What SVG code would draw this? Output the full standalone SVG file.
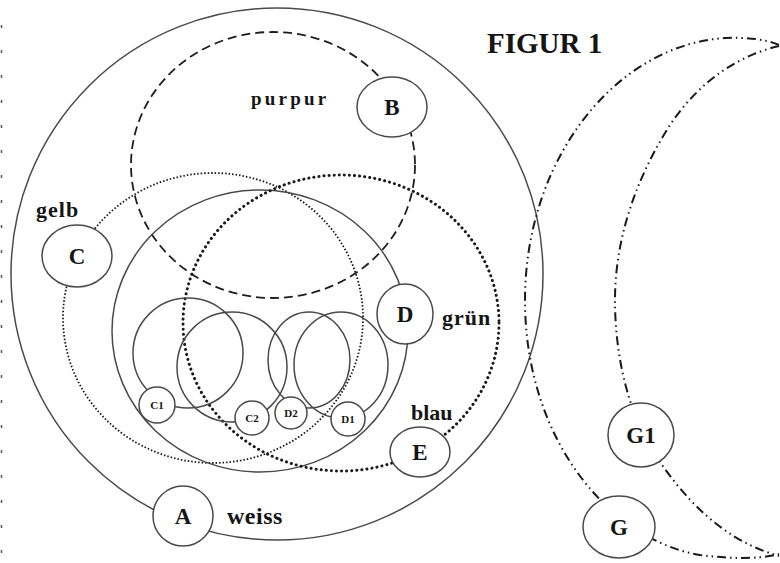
<svg xmlns="http://www.w3.org/2000/svg" width="780" height="563" viewBox="0 0 780 563">
<style>
  .ring{fill:none;stroke:#4a4a4a;stroke-width:1.5}
  .purpur{fill:none;stroke:#1e1e1e;stroke-width:1.8;stroke-dasharray:9 5}
  .gelb{fill:none;stroke:#151515;stroke-width:1.8;stroke-dasharray:1.5 2}
  .blau{fill:none;stroke:#1a1a1a;stroke-width:3;stroke-linecap:round;stroke-dasharray:0.1 5}
  .ddot{fill:none;stroke:#1a1a1a;stroke-width:2;stroke-dasharray:9 4 1.5 4 1.5 4}
  .node{fill:#fff;stroke:#4a4a4a;stroke-width:1.5}
  .lt{font-family:"Liberation Serif","Times New Roman",serif;font-weight:bold;fill:#151515;text-anchor:middle}
  .lbl{font-family:"Liberation Serif","Times New Roman",serif;font-weight:bold;fill:#151515}
  .sm{font-size:11px}
  .big{font-size:23px}
</style>
<rect width="780" height="563" fill="#fff"/>
<line x1="1.5" y1="25" x2="1.5" y2="555" stroke="#555" stroke-width="1.5" stroke-dasharray="3 22"/>
<g id="connectors">
  <circle class="ring" cx="277" cy="274" r="266"/>
  <ellipse class="purpur" cx="273" cy="165" rx="142" ry="133"/>
  <ellipse class="gelb" cx="213" cy="318" rx="150" ry="145"/>
  <ellipse class="ring" cx="260" cy="331" rx="148" ry="141"/>
  <ellipse class="blau" cx="341" cy="323" rx="158" ry="148"/>
  <circle class="ring" cx="188" cy="353" r="55"/>
  <circle class="ring" cx="232" cy="367" r="55"/>
  <ellipse class="ring" cx="309" cy="360" rx="41" ry="48"/>
  <ellipse class="ring" cx="341" cy="365" rx="47" ry="53"/>
  <path class="ddot" d="M779,45 C765,39 745,37 725,38 C615,45 525,160 525,300 C525,440 610,540 700,555 C740,560 765,558 779,554"/>
  <path class="ddot" d="M779,46 C740,55 700,80 670,125 C635,180 615,240 615,300 C615,360 630,420 660,462 C700,520 740,545 779,556"/>
</g>
<g id="title"><text class="lbl" x="487" y="53" font-size="29">FIGUR 1</text></g>
<g id="A"><circle class="node" cx="183" cy="516" r="30"/><text class="lt big" x="183" y="524">A</text><text class="lbl" x="227" y="524" font-size="24" letter-spacing="0.5">weiss</text></g>
<g id="B"><ellipse class="node" cx="392" cy="107" rx="35" ry="30"/><text class="lt big" x="392" y="115">B</text><text class="lbl" x="251" y="105" font-size="19" letter-spacing="3.2">purpur</text></g>
<g id="C"><ellipse class="node" cx="77" cy="256" rx="35" ry="31"/><text class="lt big" x="77" y="264">C</text><text class="lbl" x="36" y="217" font-size="22" letter-spacing="1">gelb</text></g>
<g id="D"><ellipse class="node" cx="405" cy="314" rx="28" ry="30"/><text class="lt big" x="405" y="322">D</text><text class="lbl" x="442" y="325" font-size="22" letter-spacing="1">grün</text></g>
<g id="E"><ellipse class="node" cx="420" cy="452" rx="30" ry="25"/><text class="lt big" x="420" y="460">E</text><text class="lbl" x="411" y="420" font-size="22">blau</text></g>
<g id="C1"><circle class="node" cx="157" cy="405" r="18"/><text class="lt sm" x="157" y="409">C1</text></g>
<g id="C2"><circle class="node" cx="252" cy="418" r="17"/><text class="lt sm" x="252" y="422">C2</text></g>
<g id="D2"><circle class="node" cx="291" cy="413" r="16"/><text class="lt sm" x="291" y="417">D2</text></g>
<g id="D1"><circle class="node" cx="348" cy="419" r="17"/><text class="lt sm" x="348" y="423">D1</text></g>
<g id="G1"><ellipse class="node" cx="641" cy="435" rx="33" ry="32"/><text class="lt big" x="641" y="443">G1</text></g>
<g id="G"><ellipse class="node" cx="619" cy="527" rx="36" ry="31"/><text class="lt big" x="619" y="535">G</text></g>
</svg>
